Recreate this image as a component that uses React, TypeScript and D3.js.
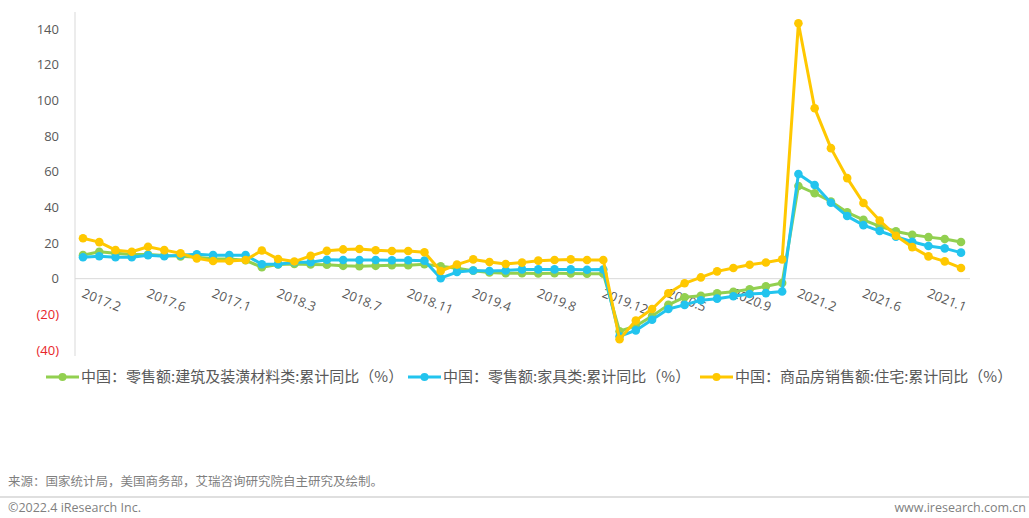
import React, { useEffect, useRef } from "react";
import * as d3 from "d3";

// x categories: cumulative YoY, Jan-Feb merged, 2017.2 .. 2021.12
const years = [2017, 2018, 2019, 2020, 2021];
const months = [2, 3, 4, 5, 6, 7, 8, 9, 10, 11, 12];
const periods = years.flatMap((y) => months.map((m) => `${y}.${m}`));

// Excel shows 10 as ".1" so the labels look like that
const tickLabels = ["2017.2", "2017.6", "2017.1", "2018.3", "2018.7", "2018.11", "2019.4", "2019.8", "2019.12", "2020.5", "2020.9", "2021.2", "2021.6", "2021.1"];

const yTicks = [-40, -20, 0, 20, 40, 60, 80, 100, 120, 140];

const seriesNames = [
  "中国：零售额:建筑及装潢材料类:累计同比（%）",
  "中国：零售额:家具类:累计同比（%）",
  "中国：商品房销售额:住宅:累计同比（%）",
];

const buildingMaterials = [
  13.2, 15.1, 14.2, 13.5, 13.5, 13.0, 12.5, 12.0, 11.2, 11.0, 10.3,
  6.4, 8.0, 8.2, 8.0, 7.8, 7.2, 7.0, 7.2, 7.5, 7.5, 8.1,
  7.0, 5.8, 4.5, 3.5, 3.0, 3.0, 2.9, 3.0, 2.9, 2.8, 2.8,
  -29.5, -26.5, -21.0, -14.7, -10.4, -9.6, -8.2, -7.3, -5.9, -4.3, -2.4,
  52.0, 47.9, 43.3, 37.2, 33.0, 29.3, 26.5, 24.6, 23.3, 22.2, 20.6,
];

const furniture = [
  12.0, 12.6, 12.0, 12.0, 13.1, 12.6, 13.2, 13.7, 13.2, 13.2, 13.2,
  8.1, 8.1, 9.2, 9.2, 10.6, 10.5, 10.5, 10.5, 10.3, 10.3, 10.1,
  0.3, 3.7, 4.6, 4.3, 4.6, 5.2, 5.2, 5.2, 5.2, 5.0, 5.1,
  -32.3, -29.0, -23.0, -17.0, -14.7, -12.1, -11.2, -9.9, -8.6, -8.1, -7.2,
  58.7, 52.5, 42.6, 35.1, 30.0, 26.7, 23.5, 20.7, 18.3, 17.0, 14.6,
];

const housingSales = [
  22.7, 20.5, 16.0, 15.1, 17.9, 16.0, 14.2, 11.4, 9.9, 9.9, 10.5,
  15.8, 11.0, 9.6, 12.8, 15.6, 16.4, 16.6, 15.9, 15.5, 15.5, 14.8,
  4.3, 7.9, 10.8, 9.3, 8.2, 9.0, 10.1, 10.5, 10.8, 10.5, 10.5,
  -34.0, -23.5, -17.0, -8.2, -2.6, 0.7, 4.1, 6.0, 7.8, 9.1, 10.8,
  143.2, 95.6, 73.2, 56.4, 42.4, 32.6, 24.1, 17.7, 12.5, 9.7, 6.0,
];

const colors = ["#92D050", "#22C4EE", "#FFC800"];

export default function App() {
  const ref = useRef<SVGSVGElement>(null);

  useEffect(() => {
    const svg = d3.select(ref.current);
    svg.selectAll("*").remove();

    const width = 1029, height = 518;
    const left = 75, plotRight = 970;
    const numFont = "'Open Sans', 'Noto Sans CJK SC', sans-serif";
    const cjkFont = "'Noto Sans CJK SC', sans-serif";

    const x = d3.scaleLinear().domain([0, periods.length - 1]).range([83, 961]);
    const y = d3.scaleLinear().domain([-40, 140]).range([350, 29]);

    svg.attr("width", width).attr("height", height);

    // y axis line
    svg.append("line")
      .attr("x1", left).attr("x2", left)
      .attr("y1", 12).attr("y2", 356)
      .attr("stroke", "#d9d9d9").attr("stroke-width", 1);

    // zero line
    svg.append("line")
      .attr("x1", left).attr("x2", plotRight)
      .attr("y1", y(0)).attr("y2", y(0))
      .attr("stroke", "#d9d9d9").attr("stroke-width", 1);

    // y tick labels, negatives in red brackets
    svg.append("g").selectAll("text")
      .data(yTicks)
      .enter().append("text")
      .attr("x", 59)
      .attr("y", (d) => y(d))
      .attr("dy", "0.35em")
      .attr("text-anchor", "end")
      .style("font-family", numFont)
      .style("font-size", "13px")
      .style("fill", (d) => (d < 0 ? "#E8262A" : "#595959"))
      .text((d) => (d < 0 ? `(${-d})` : `${d}`));

    // x labels, every 4th period, rotated
    svg.append("g").selectAll("text")
      .data(tickLabels)
      .enter().append("text")
      .attr("transform", (d, i) => `translate(${x(i * 4) - 2},${y(0) + 18}) rotate(22)`)
      .style("font-family", numFont)
      .style("font-size", "13px")
      .style("fill", "#595959")
      .text((d) => d);

    const line = d3.line<number>()
      .x((d, i) => x(i))
      .y((d) => y(d));

    const allSeries = [buildingMaterials, furniture, housingSales];

    allSeries.forEach((data, s) => {
      const g = svg.append("g");
      g.append("path")
        .datum(data)
        .attr("d", line)
        .attr("fill", "none")
        .attr("stroke", colors[s])
        .attr("stroke-width", 3)
        .attr("stroke-linejoin", "round");
      g.selectAll("circle")
        .data(data)
        .enter().append("circle")
        .attr("cx", (d, i) => x(i))
        .attr("cy", (d) => y(d))
        .attr("r", 4.3)
        .attr("fill", colors[s]);
    });

    // legend
    const legendX = [46, 408, 700];
    const legend = svg.append("g").selectAll("g")
      .data(seriesNames)
      .enter().append("g")
      .attr("transform", (d, i) => `translate(${legendX[i]},377)`);
    legend.append("line")
      .attr("x1", 0).attr("x2", 33).attr("y1", 0).attr("y2", 0)
      .attr("stroke", (d, i) => colors[i]).attr("stroke-width", 3);
    legend.append("circle")
      .attr("cx", 16.5).attr("cy", 0).attr("r", 4)
      .attr("fill", (d, i) => colors[i]);
    legend.append("text")
      .attr("x", 35).attr("y", 0).attr("dy", "0.35em")
      .style("font-family", cjkFont)
      .style("font-size", "15px")
      .style("fill", "#595959")
      .text((d) => d);

    // footer
    svg.append("text")
      .attr("x", 8).attr("y", 486)
      .style("font-family", cjkFont).style("font-size", "12.5px").style("fill", "#7f7f7f")
      .text("来源：国家统计局，美国商务部，艾瑞咨询研究院自主研究及绘制。");
    svg.append("line")
      .attr("x1", 0).attr("x2", width).attr("y1", 497).attr("y2", 497)
      .attr("stroke", "#bfbfbf").attr("stroke-width", 1);
    svg.append("text")
      .attr("x", 8).attr("y", 512)
      .style("font-family", numFont).style("font-size", "12.5px").style("fill", "#7f7f7f")
      .text("©2022.4 iResearch Inc.");
    svg.append("text")
      .attr("x", 1026).attr("y", 512)
      .attr("text-anchor", "end")
      .style("font-family", numFont).style("font-size", "12.5px").style("fill", "#7f7f7f")
      .text("www.iresearch.com.cn");
  }, []);

  return (
    <svg ref={ref} style={{ position: "absolute", left: 0, top: 0, background: "#fff" }} />
  );
}
